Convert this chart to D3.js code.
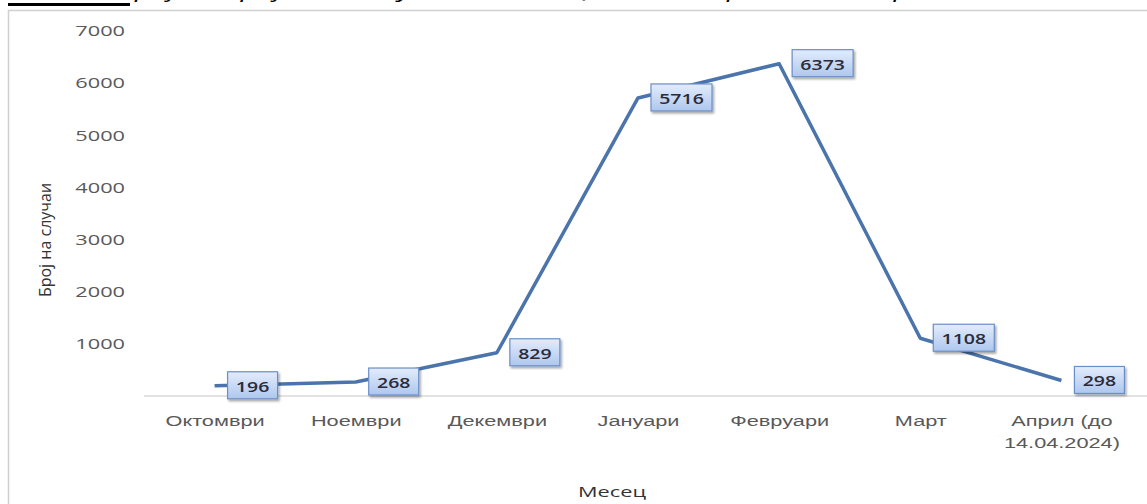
<!DOCTYPE html>
<html>
<head>
<meta charset="utf-8">
<script src="https://cdn.jsdelivr.net/npm/d3@7"></script>
<style>
  body { margin: 0; background: #fff; overflow: hidden; }
  svg { font-family: "Open Sans", "DejaVu Sans", sans-serif; }
</style>
</head>
<body>
<div id="vis"></div>
<script>
const months = ["Октомври", "Ноември", "Декември", "Јануари", "Февруари", "Март", "Април (до|14.04.2024)"];
const cases = [196, 268, 829, 5716, 6373, 1108, 298];
const yTicks = [1000, 2000, 3000, 4000, 5000, 6000, 7000];

const W = 1147, H = 504;
const margin = { top: 31, right: 15, bottom: 108, left: 144 };
const stretch = 1.45; // the source picture is widened horizontally

const svg = d3.select("#vis").append("svg")
  .attr("width", W).attr("height", H);

const defs = svg.append("defs");
const grad = defs.append("linearGradient").attr("id", "lblFill")
  .attr("x1", 0).attr("y1", 0).attr("x2", 0).attr("y2", 1);
grad.append("stop").attr("offset", "0%").attr("stop-color", "#e3ecfb");
grad.append("stop").attr("offset", "100%").attr("stop-color", "#aec7ee");
const shadow = defs.append("filter").attr("id", "sh")
  .attr("x", "-20%").attr("y", "-20%").attr("width", "150%").attr("height", "160%");
shadow.append("feDropShadow").attr("dx", 1.5).attr("dy", 2).attr("stdDeviation", 1.2)
  .attr("flood-color", "#000").attr("flood-opacity", 0.35);

// caption above the frame, only its lower edge is visible
svg.append("text")
  .attr("transform", `translate(8,-3) scale(${stretch},1)`)
  .attr("font-size", 20).attr("font-style", "italic").attr("fill", "#000")
  .text("Слика 1 Број на пријавени случаи по месеци, октомври 2023 – април 2024");
svg.append("rect").attr("x", 8).attr("y", 3).attr("width", 122).attr("height", 3).attr("fill", "#000");

// chart frame
svg.append("rect")
  .attr("x", 8.5).attr("y", 10.5).attr("width", W).attr("height", H)
  .attr("fill", "#fff").attr("stroke", "#d0d0d0").attr("stroke-width", 1.5);

const x = d3.scalePoint().domain(months)
  .range([margin.left, W - margin.right]).padding(0.5);
const y = d3.scaleLinear().domain([0, 7000])
  .range([396, margin.top]);

// y axis labels (no line)
const yAxis = svg.append("g")
  .attr("transform", `translate(${margin.left - 19},0)`)
  .call(d3.axisLeft(y).tickValues(yTicks).tickSize(0).tickPadding(0).tickFormat(d3.format("d")));
yAxis.select(".domain").remove();
yAxis.selectAll("text").attr("font-size", 15).attr("fill", "#595959")
  .attr("font-family", "Open Sans, sans-serif")
  .attr("transform", `scale(${stretch},1)`);

// x axis
const xAxis = svg.append("g")
  .attr("transform", `translate(0,${y(0)})`)
  .call(d3.axisBottom(x).tickSize(0).tickFormat(""));
xAxis.select(".domain").attr("stroke", "#d9d9d9").attr("stroke-width", 1.5)
  .attr("d", `M${margin.left},0H${W}`);
xAxis.selectAll(".tick").each(function (d) {
  const lines = d.split("|");
  const t = d3.select(this).append("text")
    .attr("transform", `scale(${stretch},1)`)
    .attr("text-anchor", "middle").attr("font-size", 15).attr("fill", "#595959");
  lines.forEach((s, i) => t.append("tspan").attr("x", 0).attr("y", 30 + i * 22).text(s));
});

// titles
svg.append("text")
  .attr("transform", "translate(51,240) rotate(-90)")
  .attr("text-anchor", "middle").attr("font-size", 16).attr("fill", "#333")
  .text("Број на случаи");
svg.append("text")
  .attr("transform", `translate(612,497) scale(${stretch},1)`)
  .attr("text-anchor", "middle").attr("font-size", 15).attr("fill", "#333")
  .text("Месец");

// line
const pts = months.map((m, i) => ({ m, v: cases[i] }));
svg.append("path")
  .datum(pts)
  .attr("fill", "none").attr("stroke", "#4a74ab").attr("stroke-width", 3.5)
  .attr("stroke-linejoin", "round")
  .attr("d", d3.line().x(d => x(d.m)).y(d => y(d.v)));

// data labels
const boxW = d => String(d.v).length * 11 + 17;
const lbl = svg.selectAll(".lbl").data(pts).join("g")
  .attr("class", "lbl")
  .attr("transform", d => `translate(${x(d.m) + 13},${y(d.v)})`);
lbl.append("rect")
  .attr("x", 0).attr("y", -14)
  .attr("width", boxW).attr("height", 27)
  .attr("fill", "url(#lblFill)").attr("stroke", "#6a8fc8").attr("stroke-width", 1.2)
  .attr("filter", "url(#sh)");
lbl.append("text")
  .attr("transform", d => `translate(${boxW(d) / 2},6) scale(1.3,1)`)
  .attr("text-anchor", "middle").attr("font-size", 15).attr("font-weight", 600)
  .attr("fill", "#2b2b3a")
  .text(d => d.v);
</script>
</body>
</html>
